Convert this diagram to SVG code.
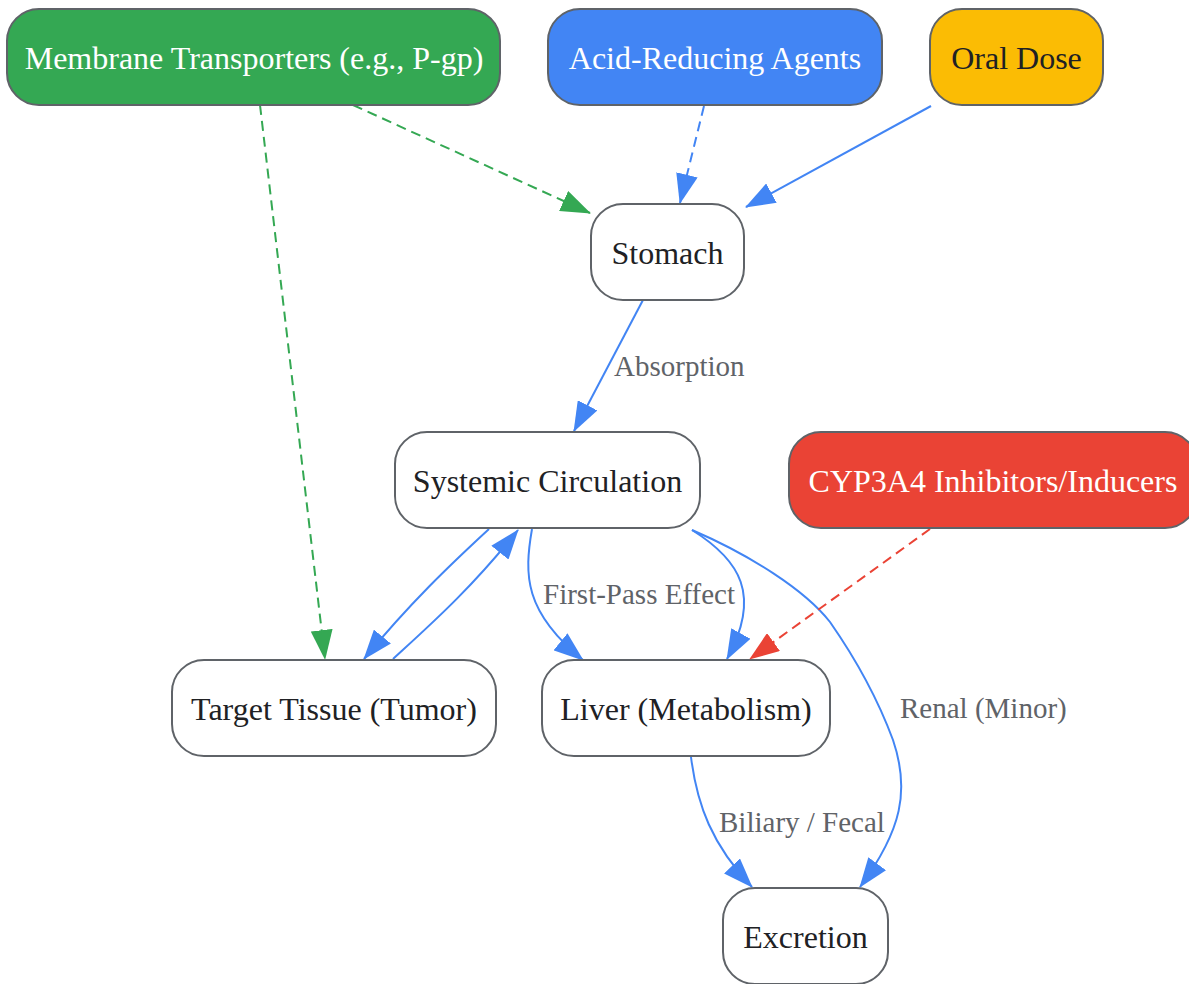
<svg xmlns="http://www.w3.org/2000/svg" width="1189" height="984" viewBox="0 0 1189 984">
<style>
.n{stroke:#5f6368;stroke-width:2}
.t{font-family:"Liberation Serif","Times New Roman",serif;font-size:32px;text-anchor:middle;fill:#202124}
.w{fill:#ffffff}
.l{font-family:"Liberation Serif","Times New Roman",serif;font-size:29px;fill:#5f6368}
.e{fill:none;stroke-width:2}
.b{stroke:#4285F4}
.g{stroke:#34A853;stroke-dasharray:10,6}
.bd{stroke:#4285F4;stroke-dasharray:10,6}
.r{stroke:#EA4335;stroke-dasharray:10,6}
</style>
<defs>
<marker id="ab" markerUnits="userSpaceOnUse" markerWidth="30" markerHeight="22" refX="29" refY="11" orient="auto"><path d="M0,0 L30,11 L0,22 z" fill="#4285F4"/></marker>
<marker id="ag" markerUnits="userSpaceOnUse" markerWidth="30" markerHeight="22" refX="29" refY="11" orient="auto"><path d="M0,0 L30,11 L0,22 z" fill="#34A853"/></marker>
<marker id="ar" markerUnits="userSpaceOnUse" markerWidth="30" markerHeight="22" refX="29" refY="11" orient="auto"><path d="M0,0 L30,11 L0,22 z" fill="#EA4335"/></marker>
</defs>
<rect width="1189" height="984" fill="#ffffff"/>
<g id="connectors">
<path class="e g" d="M353,105 L590,213" marker-end="url(#ag)"/>
<path class="e g" d="M260,105 L325,659" marker-end="url(#ag)"/>
<path class="e bd" d="M704,106 L680,203" marker-end="url(#ab)"/>
<path class="e b" d="M931,106 L746,207" marker-end="url(#ab)"/>
<path class="e b" d="M643,300 L574,431" marker-end="url(#ab)"/>
<path class="e b" d="M489,529 C450,565 410,603 364,659" marker-end="url(#ab)"/>
<path class="e b" d="M393,659 C430,625 470,590 518,530" marker-end="url(#ab)"/>
<path class="e b" d="M532,529 C524,575 524,612 583,660" marker-end="url(#ab)"/>
<path class="e b" d="M692,530 C740,560 762,595 727,659" marker-end="url(#ab)"/>
<path class="e b" d="M692,530 C750,555 805,590 830,622 C860,665 880,705 893,740 C910,790 902,830 860,887" marker-end="url(#ab)"/>
<path class="e b" d="M691,757 C697,805 712,845 752,887" marker-end="url(#ab)"/>
<path class="e r" d="M930,529 L750,659" marker-end="url(#ar)"/>
<text class="l" x="614" y="376">Absorption</text>
<text class="l" x="543" y="604">First-Pass Effect</text>
<text class="l" x="900" y="718">Renal (Minor)</text>
<text class="l" x="719" y="832">Biliary / Fecal</text>
</g>
<g id="membrane"><rect class="n" x="7" y="9" width="493" height="96" rx="32" fill="#34A853"/><text class="t w" x="254" y="69">Membrane Transporters (e.g., P-gp)</text></g>
<g id="acid"><rect class="n" x="548" y="9" width="334" height="96" rx="32" fill="#4285F4"/><text class="t w" x="715" y="69">Acid-Reducing Agents</text></g>
<g id="oral"><rect class="n" x="930" y="9" width="173" height="96" rx="32" fill="#FBBC04"/><text class="t" x="1016.5" y="69">Oral Dose</text></g>
<g id="stomach"><rect class="n" x="591" y="204" width="153" height="96" rx="32" fill="#ffffff"/><text class="t" x="667.5" y="264">Stomach</text></g>
<g id="systemic"><rect class="n" x="395" y="432" width="305" height="96" rx="32" fill="#ffffff"/><text class="t" x="547.5" y="492">Systemic Circulation</text></g>
<g id="cyp"><rect class="n" x="789" y="432" width="408" height="96" rx="32" fill="#EA4335"/><text class="t w" x="993" y="492">CYP3A4 Inhibitors/Inducers</text></g>
<g id="target"><rect class="n" x="172" y="660" width="324" height="96" rx="32" fill="#ffffff"/><text class="t" x="334" y="720">Target Tissue (Tumor)</text></g>
<g id="liver"><rect class="n" x="542" y="660" width="288" height="96" rx="32" fill="#ffffff"/><text class="t" x="686" y="720">Liver (Metabolism)</text></g>
<g id="excretion"><rect class="n" x="723" y="888" width="165" height="96" rx="32" fill="#ffffff"/><text class="t" x="805.5" y="948">Excretion</text></g>
</svg>
